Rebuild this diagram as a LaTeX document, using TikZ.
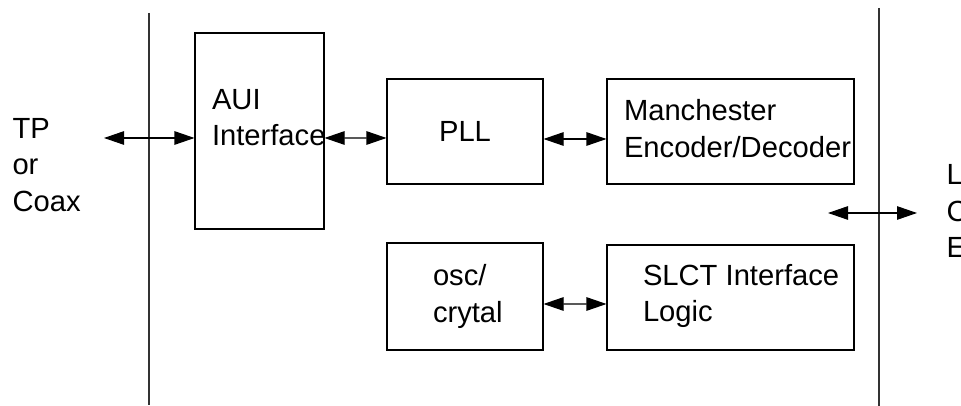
\documentclass[tikz,border=0pt]{standalone}
\usepackage{fontspec}
\setmainfont{Liberation Sans}
\usetikzlibrary{arrows.meta}
\begin{document}
\begin{tikzpicture}[
        line width=0.6pt,
        font=\fontsize{16.6pt}{20.8pt}\selectfont
    ]
    \tikzset{
        blkbox/.style = {rectangle, draw=black, inner sep=0pt},
        txtlbl/.style = {align=left, inner sep=0pt},
        biarrow/.style = {{Triangle[length=0.4cm,width=0.27cm]}-{Triangle[length=0.4cm,width=0.27cm]}},
        divider/.style = {draw=black!80, line width=0.75pt},
    }
    \useasboundingbox (0,0) rectangle (19.22,-8.12);
    \coordinate (ltop) at (2.98,-0.26);
    \coordinate (lbot) at (2.98,-8.10);
    \coordinate (rtop) at (17.58,-0.16);
    \coordinate (rbot) at (17.58,-8.12);
    \draw[divider] (ltop) -- (lbot);
    \draw[divider] (rtop) -- (rbot);
    \node[blkbox,minimum width=2.58cm,minimum height=3.92cm] (aui) at (5.19,-2.62) {};
    \node[blkbox,minimum width=3.12cm,minimum height=2.10cm] (pll) at (9.30,-2.63) {PLL};
    \node[blkbox,minimum width=4.94cm,minimum height=2.10cm] (manch) at (14.61,-2.63) {};
    \node[blkbox,minimum width=3.12cm,minimum height=2.14cm] (osc) at (9.30,-5.93) {};
    \node[blkbox,minimum width=4.94cm,minimum height=2.10cm] (slct) at (14.61,-5.95) {};
    \node[txtlbl,anchor=west] (auitxt) at ([xshift=0.34cm,yshift=0.27cm]aui.west) {AUI\\Interface};
    \node[txtlbl,anchor=west] (manchtxt) at ([xshift=0.34cm,yshift=0.06cm]manch.west) {Manchester\\Encoder/Decoder};
    \node[txtlbl,anchor=west] (osctxt) at ([xshift=0.92cm]osc.west) {osc/\\crytal};
    \node[txtlbl,anchor=west] (slcttxt) at ([xshift=0.72cm,yshift=0.03cm]slct.west) {SLCT Interface\\Logic};
    \node[txtlbl,anchor=west] (tp) at (0.24,-3.30) {TP\\or\\Coax};
    \node[txtlbl,anchor=west] (lce) at (18.92,-4.22) {L\\C\\E};
    \coordinate (tpend) at (2.08,-2.76);
    \coordinate (lcewest) at (16.56,-4.26);
    \coordinate (lceeast) at (18.34,-4.26);
    \draw[biarrow] (tpend) -- ([yshift=-0.14cm]aui.west);
    \draw[biarrow] ([yshift=-0.14cm]aui.east) -- ([yshift=-0.13cm]pll.west);
    \draw[biarrow] ([yshift=-0.15cm]pll.east) -- ([yshift=-0.15cm]manch.west);
    \draw[biarrow] ([yshift=-0.15cm]osc.east) -- ([yshift=-0.13cm]slct.west);
    \draw[biarrow] (lcewest) -- (lceeast);
\end{tikzpicture}
\end{document}
